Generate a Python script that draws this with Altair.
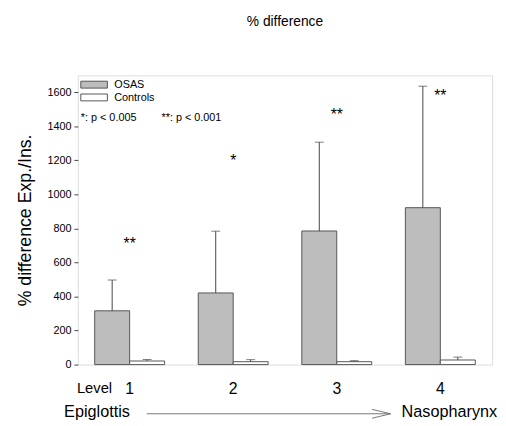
import altair as alt
import pandas as pd

levels = ["1", "2", "3", "4"]
groups = ["OSAS", "Controls"]
osas_mean = [316, 421, 785, 922]
osas_err = [181, 363, 522, 714]
ctrl_mean = [21, 17, 17, 27]
ctrl_err = [9, 12, 6, 17]
stars = ["**", "*", "**", "**"]
star_y = [710, 1196, 1467, 1577]
y_ticks = [0, 200, 400, 600, 800, 1000, 1200, 1400, 1600]
legend_labels = ["OSAS", "Controls"]
p_notes = ["*:  p < 0.005", "**: p < 0.001"]

rows = []
for i, lv in enumerate(levels):
    rows.append({"level": lv, "group": "OSAS", "value": osas_mean[i], "top": osas_mean[i] + osas_err[i]})
    rows.append({"level": lv, "group": "Controls", "value": ctrl_mean[i], "top": ctrl_mean[i] + ctrl_err[i]})
df = pd.DataFrame(rows)
star_df = pd.DataFrame({"level": levels, "label": stars, "y": star_y})

FONT = "Liberation Sans"
W, H = 421, 294

yscale = alt.Scale(domain=[0, 1700], nice=False, zero=True)
xscale = alt.Scale(domain=levels, paddingInner=0.325, paddingOuter=0.1625)
xaxis = alt.Axis(title=None, labelAngle=0, domain=False, ticks=False, tickSize=0,
                 labelFontSize=16, labelPadding=29, labelBaseline="alphabetic",
                 labelColor="black", labelFont=FONT)
yaxis = alt.Axis(title="% difference Exp./Ins.", values=y_ticks, tickCount=9, format="d",
                 labelOverlap=False, grid=False, domain=False,
                 tickSize=4, tickColor="#444", labelFontSize=11, labelPadding=3,
                 labelColor="black", labelFont=FONT, titleFont=FONT, titleFontSize=18,
                 titleFontWeight="normal", titleColor="black", titlePadding=13)

xo = alt.XOffset("group:N", scale=alt.Scale(domain=groups, paddingInner=0, paddingOuter=0))

base = alt.Chart(df)

bars = base.mark_bar(stroke="#555", strokeWidth=1).encode(
    x=alt.X("level:N", scale=xscale, axis=xaxis), xOffset=xo,
    y=alt.Y("value:Q", scale=yscale, axis=yaxis),
    fill=alt.Fill("group:N", scale=alt.Scale(domain=groups, range=["#bdbdbd", "#ffffff"]), legend=None))
err_rule = base.mark_rule(color="#444", strokeWidth=1).encode(
    x=alt.X("level:N", scale=xscale, axis=xaxis), xOffset=xo,
    y=alt.Y("value:Q", scale=yscale, axis=yaxis), y2="top:Q")
err_cap = base.mark_tick(color="#444", thickness=1, size=9, orient="horizontal").encode(
    x=alt.X("level:N", scale=xscale, axis=xaxis), xOffset=xo,
    y=alt.Y("top:Q", scale=yscale, axis=yaxis))

star_txt = alt.Chart(star_df).mark_text(font=FONT, fontSize=16, baseline="middle", color="black").encode(
    x=alt.X("level:N", scale=xscale, axis=xaxis), y=alt.Y("y:Q", scale=yscale, axis=yaxis), text="label:N")

leg_df = pd.DataFrame({"label": legend_labels})
leg_rect0 = alt.Chart(leg_df.iloc[[0]]).mark_rect(stroke="#555", strokeWidth=1, fill="#bdbdbd").encode(
    x=alt.value(3), x2=alt.value(30), y=alt.value(6), y2=alt.value(13))
leg_rect1 = alt.Chart(leg_df.iloc[[1]]).mark_rect(stroke="#555", strokeWidth=1, fill="#ffffff").encode(
    x=alt.value(3), x2=alt.value(30), y=alt.value(19), y2=alt.value(26))
leg_t0 = alt.Chart(leg_df.iloc[[0]]).mark_text(font=FONT, fontSize=11, align="left", baseline="middle",
                                                color="black").encode(
    x=alt.value(37), y=alt.value(10), text="label:N")
leg_t1 = alt.Chart(leg_df.iloc[[1]]).mark_text(font=FONT, fontSize=11, align="left", baseline="middle",
                                                color="black").encode(
    x=alt.value(37), y=alt.value(23), text="label:N")
pnote_df = pd.DataFrame({"t": p_notes})
pnote0 = alt.Chart(pnote_df.iloc[[0]]).mark_text(
    font=FONT, fontSize=11, align="left", baseline="middle", color="black").encode(
    x=alt.value(3), y=alt.value(43), text="t:N")
pnote1 = alt.Chart(pnote_df.iloc[[1]]).mark_text(
    font=FONT, fontSize=11, align="left", baseline="middle", color="black").encode(
    x=alt.value(85), y=alt.value(43), text="t:N")

bottom_df = pd.DataFrame({"t": ["Level", "Epiglottis", "Nasopharynx"]})
lvl_txt = alt.Chart(bottom_df.iloc[[0]]).mark_text(font=FONT, fontSize=15, align="left", baseline="alphabetic",
                                                   color="black").encode(
    x=alt.value(-1), y=alt.value(323), text="t:N")
epi_txt = alt.Chart(bottom_df.iloc[[1]]).mark_text(font=FONT, fontSize=16.5, align="left", baseline="alphabetic",
                                                   color="black").encode(
    x=alt.value(-14), y=alt.value(347), text="t:N")
naso_txt = alt.Chart(bottom_df.iloc[[2]]).mark_text(font=FONT, fontSize=16.5, align="left", baseline="alphabetic",
                                                    color="black").encode(
    x=alt.value(329), y=alt.value(347), text="t:N")
arrow_shaft = alt.Chart(bottom_df.iloc[[0]]).mark_rule(color="#777", strokeWidth=1).encode(
    x=alt.value(70), x2=alt.value(318), y=alt.value(344))
arrow_h1 = alt.Chart(bottom_df.iloc[[0]]).mark_rule(color="#777", strokeWidth=1).encode(
    x=alt.value(299), x2=alt.value(318), y=alt.value(339.5), y2=alt.value(344))
arrow_h2 = alt.Chart(bottom_df.iloc[[0]]).mark_rule(color="#777", strokeWidth=1).encode(
    x=alt.value(299), x2=alt.value(318), y=alt.value(348.5), y2=alt.value(344))

chart = alt.layer(
    bars, err_rule, err_cap, star_txt,
    leg_rect0, leg_rect1, leg_t0, leg_t1, pnote0, pnote1,
    lvl_txt, epi_txt, naso_txt, arrow_shaft, arrow_h1, arrow_h2,
).properties(
    width=W, height=H,
    title=alt.Title("% difference", font=FONT, fontSize=14, fontWeight="normal", color="black",
                    anchor="middle", offset=47),
    autosize=alt.AutoSizeParams(type="none"),
    padding={"left": 71, "top": 65, "right": 6, "bottom": 58},
).configure_view(stroke="#444", strokeWidth=1).configure_axis(
    labelFont=FONT, titleFont=FONT).configure(background="white")

chart.save("out.html", embed_options={"renderer": "svg", "actions": False})
